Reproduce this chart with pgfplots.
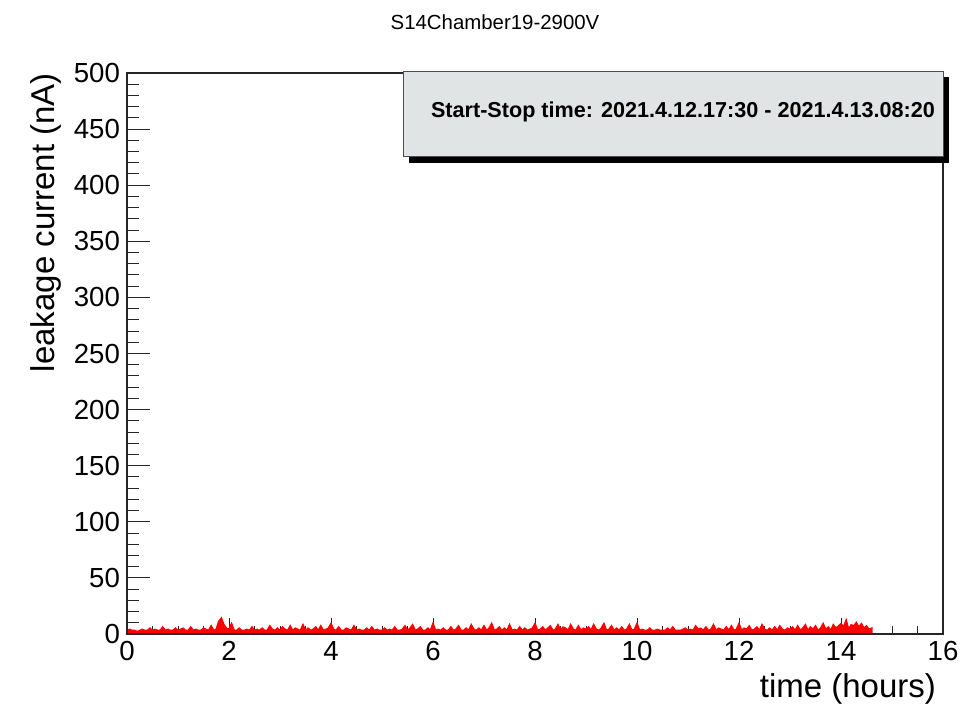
\documentclass[border=0pt]{standalone}
\usepackage{fontspec}
\setmainfont{Liberation Sans}
\usepackage{pgfplots}
\usepackage{pgfplotstable}
\pgfplotsset{compat=1.18}
\definecolor{boxgray}{RGB}{225,228,228}

% leakage current (nA), one sample every 0.05 h, one line per hour
\pgfplotstableread[row sep=\\]{
y\\
3\\4\\3\\3\\2\\3\\4\\3\\3\\5\\3\\4\\3\\3\\6\\3\\4\\3\\3\\5\\
3\\4\\5\\3\\3\\6\\3\\4\\3\\3\\5\\4\\3\\7\\3\\4\\11\\14\\8\\5\\
4\\9\\3\\3\\5\\3\\3\\4\\3\\6\\3\\4\\3\\5\\3\\3\\7\\4\\3\\5\\
3\\6\\4\\3\\7\\3\\5\\4\\3\\8\\3\\5\\3\\4\\6\\3\\7\\3\\4\\5\\
9\\4\\3\\6\\3\\3\\5\\4\\3\\7\\3\\4\\3\\3\\5\\3\\6\\3\\4\\3\\
3\\5\\3\\4\\3\\6\\3\\3\\4\\7\\3\\5\\8\\3\\4\\6\\3\\3\\5\\3\\
9\\3\\4\\3\\5\\3\\3\\6\\3\\4\\7\\3\\3\\5\\3\\8\\4\\3\\5\\3\\
7\\3\\5\\9\\3\\4\\6\\3\\5\\3\\8\\3\\4\\3\\6\\3\\5\\3\\4\\5\\
9\\3\\4\\6\\3\\5\\7\\3\\4\\8\\3\\6\\5\\3\\8\\4\\3\\7\\3\\5\\
4\\6\\3\\8\\4\\3\\5\\9\\3\\4\\7\\3\\5\\3\\6\\3\\4\\8\\3\\4\\
9\\3\\4\\3\\3\\5\\3\\3\\4\\3\\3\\3\\5\\3\\6\\3\\3\\3\\4\\5\\
3\\4\\3\\7\\4\\5\\3\\6\\3\\4\\8\\3\\5\\4\\3\\6\\3\\7\\3\\4\\
9\\3\\5\\4\\7\\3\\4\\6\\3\\8\\4\\3\\5\\3\\6\\3\\7\\4\\3\\5\\
4\\6\\3\\7\\3\\5\\8\\3\\6\\4\\7\\3\\5\\9\\4\\6\\3\\8\\5\\7\\
9\\6\\12\\4\\8\\7\\10\\6\\9\\5\\7\\4\\5\\
}\leak

\begin{document}
\begin{tikzpicture}
\useasboundingbox (-63.5pt,-35.5pt) rectangle (417pt,317pt);
\pgfplotsset{rootaxis/.style={
  at={(0,0)}, anchor=south west, scale only axis,
  width=408pt, height=280.5pt,
  xmin=0, xmax=16, ymin=0, ymax=500,
  axis line style={line width=0.6pt, black!85},
  tick align=inside,
  tick style={black!85, line width=0.5pt},
  ticklabel style={font=\fontsize{13.8}{16}\selectfont},
  /pgf/number format/assume math mode=true,
  clip=false}}
\begin{axis}[rootaxis,
  xtick={0,2,...,16}, minor x tick num=3, xtick pos=bottom,
  ytick=\empty,
  major tick length=8pt, minor tick length=4pt]
\addplot[red, fill=red, sharp plot, line width=0.9pt, line join=miter]
  table[x expr=\coordindex*0.05, y=y] {\leak} \closedcycle;
\end{axis}
\begin{axis}[rootaxis,
  ytick={0,50,...,500}, minor y tick num=4, ytick pos=left,
  xtick=\empty,
  major tick length=11.5pt, minor tick length=6pt]
\end{axis}
% stats-style box with shadow
\fill[black] (141pt,235.5pt) rectangle (411pt,278.5pt);
\filldraw[fill=boxgray, draw=black!70, line width=0.5pt] (138pt,238.5pt) rectangle (408pt,281pt);
\node[font=\fontsize{10.8}{13}\selectfont\bfseries] at (278pt,261pt)
  {Start-Stop time: 2021.4.12.17:30 - 2021.4.13.08:20};
% title and axis titles
\node[font=\fontsize{10.2}{12}\selectfont] at (184pt,306pt) {S14Chamber19-2900V};
\node[font=\fontsize{16.5}{19}\selectfont, anchor=base east] at (408pt,-31.5pt) {time (hours)};
\node[font=\fontsize{16.5}{19}\selectfont, rotate=90, anchor=base east] at (-36.5pt,284pt) {leakage current (nA)};
\end{tikzpicture}
\end{document}
